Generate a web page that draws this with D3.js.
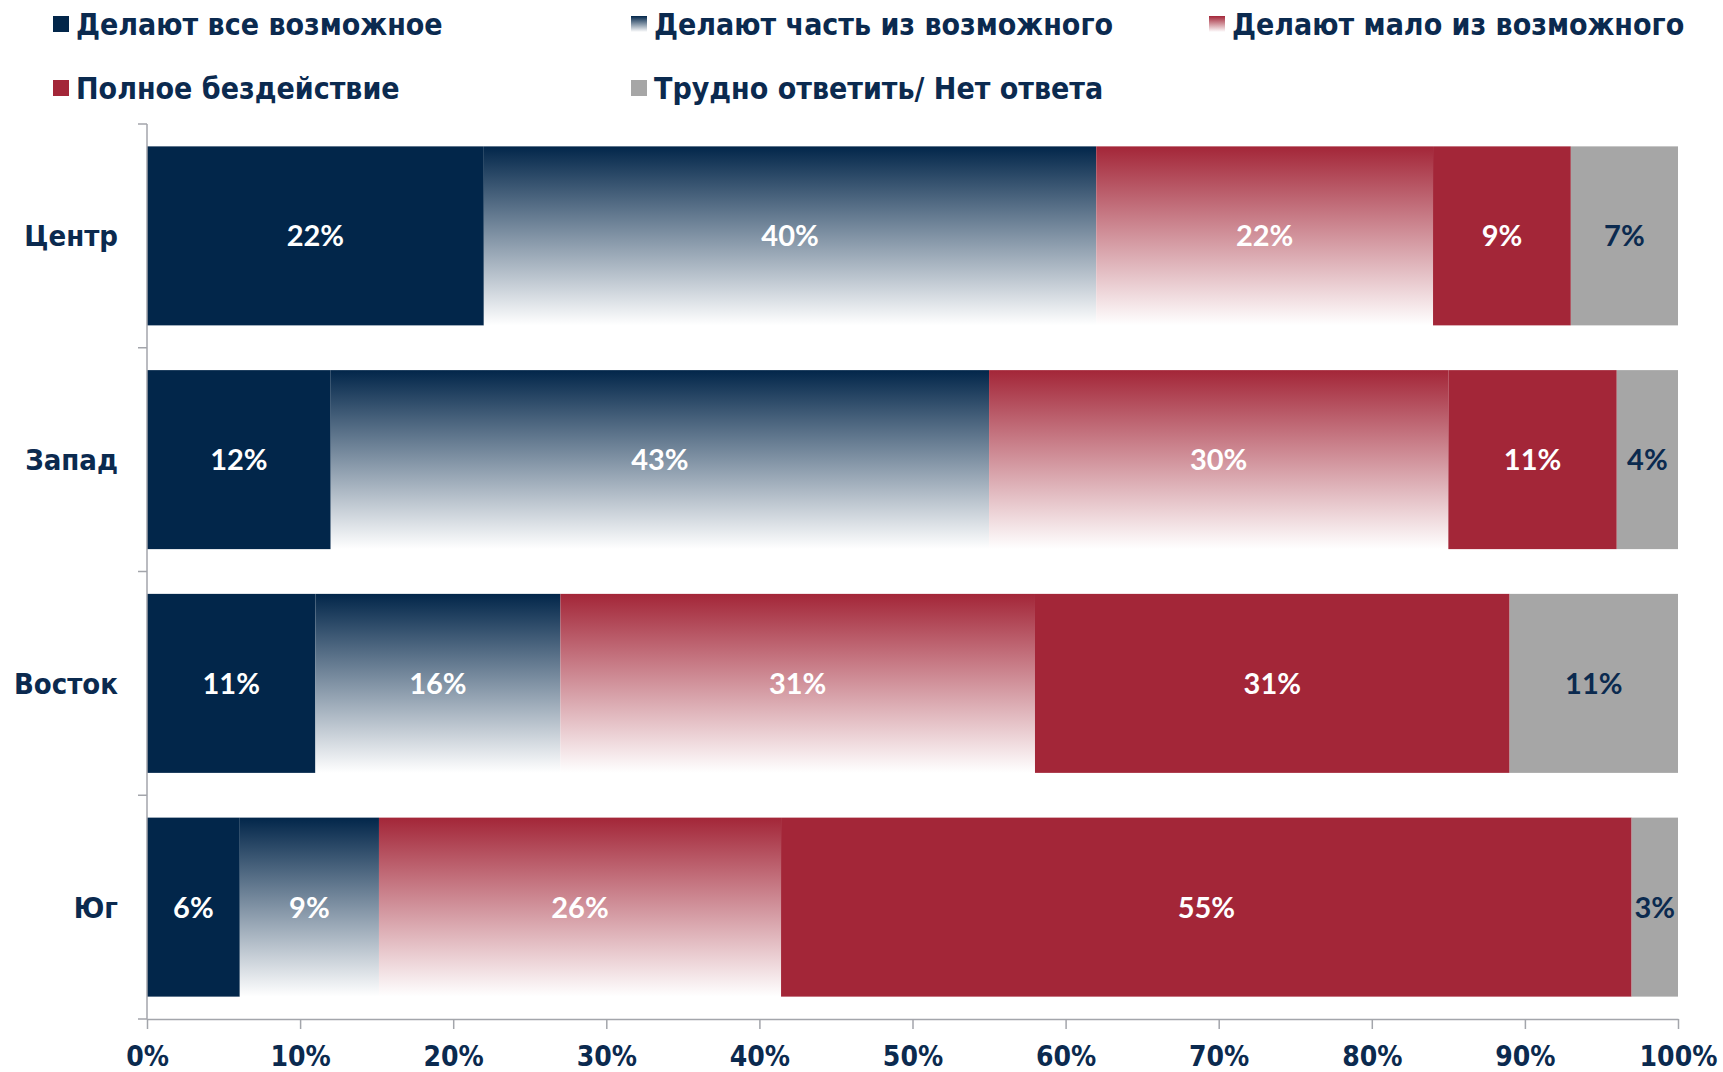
<!DOCTYPE html>
<html>
<head>
<meta charset="utf-8">
<script src="https://cdn.jsdelivr.net/npm/d3@7"></script>
<style>
  html, body { margin: 0; padding: 0; background: #fff; }
  svg { display: block; }
  .cond { font-family: "DejaVu Sans Condensed", "DejaVu Sans", sans-serif; font-stretch: condensed; font-weight: bold; }
  .lbl { font-family: Lato, "Open Sans", sans-serif; font-weight: bold; }
</style>
</head>
<body>
<svg id="chart" width="1723" height="1072"></svg>
<script>
const categories = ["Центр", "Запад", "Восток", "Юг"];
const seriesNames = [
  "Делают все возможное",
  "Делают часть из возможного",
  "Делают мало из возможного",
  "Полное бездействие",
  "Трудно ответить/ Нет ответа"
];
const allPossible  = [22, 12, 11, 6];
const partPossible = [40, 43, 16, 9];
const littlePossible = [22, 30, 31, 26];
const inaction     = [9, 11, 31, 55];
const noAnswer     = [7, 4, 11, 3];
const xTicks = [0, 0.1, 0.2, 0.3, 0.4, 0.5, 0.6, 0.7, 0.8, 0.9, 1.0];

const seriesValues = [allPossible, partPossible, littlePossible, inaction, noAnswer];

const NAVY = "#02264a", RED = "#a32638", GREY = "#a6a6a6", TEXT = "#0b2a4f";
const fills = [NAVY, "url(#gNavy)", "url(#gRed)", RED, GREY];
const labelColors = ["#fff", "#fff", "#fff", "#fff", TEXT];

const W = 1723, H = 1072;
const margin = {left: 147, right: 45, top: 124, bottom: 53};
const svg = d3.select("#chart");

const defs = svg.append("defs");
function grad(id, c) {
  const g = defs.append("linearGradient").attr("id", id)
    .attr("x1", 0).attr("y1", 0).attr("x2", 0).attr("y2", 1);
  g.append("stop").attr("offset", "0%").attr("stop-color", c);
  g.append("stop").attr("offset", "100%").attr("stop-color", "#ffffff");
}
grad("gNavy", NAVY);
grad("gRed", RED);

// rows normalized (100% stacked)
const rows = categories.map((c, i) => {
  const vals = seriesValues.map(s => s[i]);
  const total = d3.sum(vals);
  let acc = 0;
  return vals.map((v, k) => {
    const seg = {cat: c, k, v, x0: acc / total, x1: (acc + v) / total};
    acc += v;
    return seg;
  });
});

const x = d3.scaleLinear().domain([0, 1]).range([margin.left, W - margin.right]);
const y = d3.scaleBand().domain(categories).range([margin.top, H - margin.bottom])
  .paddingInner(0.2).paddingOuter(0.1);

// bars
const g = svg.append("g");
rows.forEach(row => {
  g.selectAll(null).data(row).enter().append("rect")
    .attr("x", d => x(d.x0))
    .attr("y", d => y(d.cat))
    .attr("width", d => x(d.x1) - x(d.x0))
    .attr("height", y.bandwidth())
    .attr("fill", d => fills[d.k]);
  g.selectAll(null).data(row).enter().append("text")
    .attr("class", "lbl")
    .attr("x", d => (x(d.x0) + x(d.x1)) / 2)
    .attr("y", d => y(d.cat) + y.bandwidth() / 2)
    .attr("dy", "0.36em")
    .attr("text-anchor", "middle")
    .attr("font-size", 29)
    .attr("fill", d => labelColors[d.k])
    .text(d => d.v + "%");
});

// y axis
const axisColor = "#a3a5ab";
const ya = svg.append("g");
ya.append("line").attr("x1", x(0)).attr("x2", x(0))
  .attr("y1", margin.top).attr("y2", H - margin.bottom)
  .attr("stroke", axisColor).attr("stroke-width", 1.5);
d3.range(categories.length + 1).forEach(i => {
  const yy = margin.top + i * y.step();
  ya.append("line").attr("x1", x(0) - 9).attr("x2", x(0))
    .attr("y1", yy).attr("y2", yy).attr("stroke", axisColor).attr("stroke-width", 1.5);
});
ya.selectAll(null).data(categories).enter().append("text")
  .attr("class", "cond")
  .attr("x", 118)
  .attr("y", d => y(d) + y.bandwidth() / 2)
  .attr("dy", "0.36em")
  .attr("text-anchor", "end")
  .attr("font-size", 29)
  .attr("fill", TEXT)
  .text(d => d);

// x axis
const xa = svg.append("g").attr("transform", `translate(0,${H - margin.bottom})`)
  .call(d3.axisBottom(x).tickValues(xTicks).tickFormat(d3.format(".0%")).tickSize(10).tickPadding(17).tickSizeOuter(0));
xa.select(".domain").attr("stroke", axisColor).attr("stroke-width", 1.5);
xa.selectAll(".tick line").attr("stroke", axisColor).attr("stroke-width", 1.5);
xa.selectAll(".tick text").attr("class", "cond").attr("font-size", 28).attr("fill", TEXT);

// legend
const legendPos = [
  {x: 53, y: 24}, {x: 631, y: 24}, {x: 1209, y: 24},
  {x: 53, y: 88}, {x: 631, y: 88}
];
const lg = svg.append("g");
seriesNames.forEach((name, k) => {
  const p = legendPos[k];
  lg.append("rect").attr("x", p.x).attr("y", p.y - 8).attr("width", 16).attr("height", 16)
    .attr("fill", fills[k]);
  lg.append("text").attr("class", "cond")
    .attr("x", p.x + 23).attr("y", p.y).attr("dy", "0.36em")
    .attr("font-size", 30).attr("fill", TEXT).text(name);
});
</script>
</body>
</html>
